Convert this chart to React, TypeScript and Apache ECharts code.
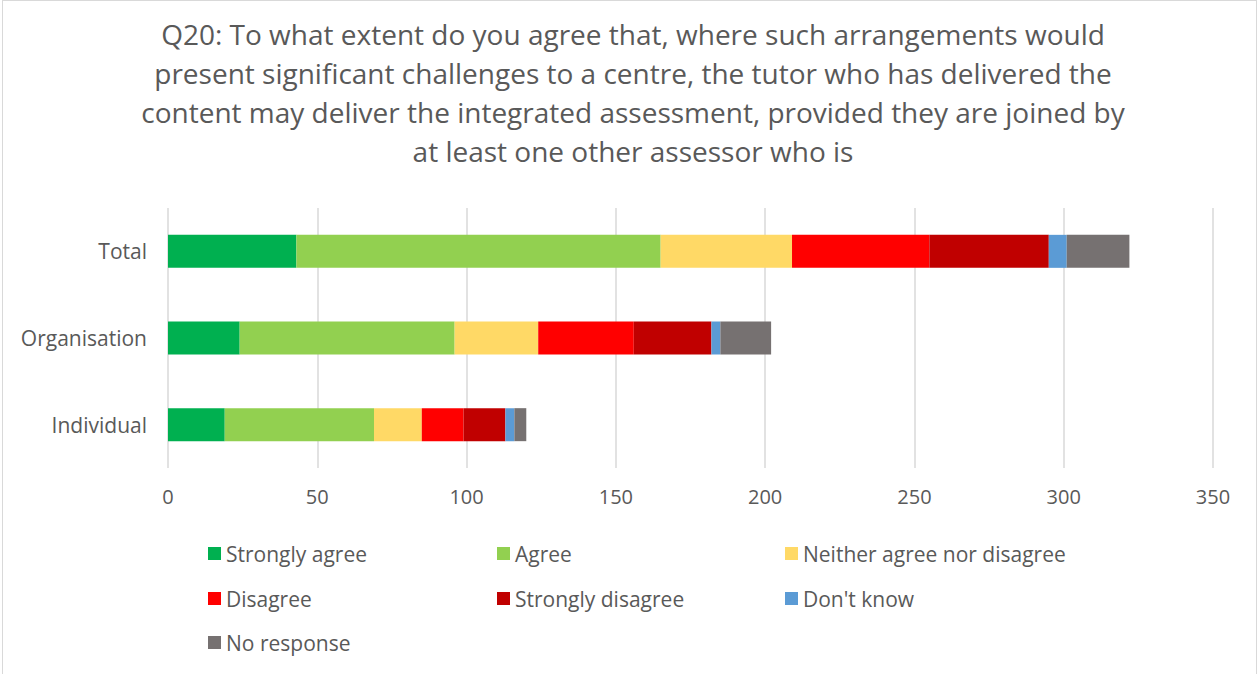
import React, { useEffect, useRef } from "react";
import * as echarts from "echarts";

const categories = ["Total", "Organisation", "Individual"];
const seriesNames = [
  "Strongly agree",
  "Agree",
  "Neither agree nor disagree",
  "Disagree",
  "Strongly disagree",
  "Don't know",
  "No response",
];
const stronglyAgree = [43, 24, 19];
const agree = [122, 72, 50];
const neither = [44, 28, 16];
const disagree = [46, 32, 14];
const stronglyDisagree = [40, 26, 14];
const dontKnow = [6, 3, 3];
const noResponse = [21, 17, 4];
const xTicks = [0, 50, 100, 150, 200, 250, 300, 350];
const colors = ["#00B050", "#92D050", "#FFD966", "#FF0000", "#C00000", "#5B9BD5", "#767171"];
const titleText =
  "Q20: To what extent do you agree that, where such arrangements would\npresent significant challenges to a centre, the tutor who has delivered the\ncontent may deliver the integrated assessment, provided they are joined by\nat least one other assessor who is";

const FONT = "'Open Sans', sans-serif";

export default function App() {
  const ref = useRef<HTMLDivElement>(null);
  useEffect(() => {
    if (!ref.current) return;
    const chart = echarts.init(ref.current, undefined, { renderer: "svg" });
    const values = [stronglyAgree, agree, neither, disagree, stronglyDisagree, dontKnow, noResponse];
    const legendPos = [
      [208, 543],
      [497, 543],
      [785, 543],
      [208, 588],
      [497, 588],
      [785, 588],
      [208, 632],
    ];
    chart.setOption({
      animation: false,
      textStyle: { fontFamily: FONT },
      graphic: [
        {
          type: "text",
          x: 633,
          y: 14,
          style: {
            text: titleText,
            textAlign: "center",
            textVerticalAlign: "top",
            fontSize: 28,
            fontFamily: FONT,
            fill: "#595959",
            lineHeight: 39,
          },
        },
      ],
      legend: seriesNames.map((n, i) => ({
        data: [n],
        left: legendPos[i][0],
        top: legendPos[i][1],
        itemWidth: 13,
        itemHeight: 13,
        icon: "rect",
        padding: 0,
        itemGap: 0,
        textStyle: { fontSize: 21, color: "#595959", fontFamily: FONT },
      })),
      grid: { left: 168, right: 47, top: 208, height: 260, containLabel: false },
      xAxis: {
        type: "value",
        min: xTicks[0],
        max: xTicks[xTicks.length - 1],
        interval: 50,
        axisLine: { show: false },
        axisTick: { show: false },
        splitLine: { lineStyle: { color: "#D9D9D9", width: 1.5 } },
        axisLabel: { fontSize: 20, color: "#595959", margin: 18, fontFamily: FONT },
      },
      yAxis: {
        type: "category",
        data: categories,
        inverse: true,
        axisLine: { show: false },
        axisTick: { show: false },
        axisLabel: { fontSize: 21, color: "#595959", margin: 21, fontFamily: FONT },
      },
      series: seriesNames.map((n, i) => ({
        name: n,
        type: "bar",
        stack: "total",
        data: values[i],
        barWidth: 33,
        itemStyle: { color: colors[i] },
      })),
    });
    return () => chart.dispose();
  }, []);
  return (
    <div style={{ position: "fixed", left: 0, top: 0, width: 1260, height: 674, background: "#fff" }}>
      <div
        style={{
          position: "absolute",
          left: 2,
          top: 0,
          width: 1255,
          height: 690,
          border: "1.5px solid #D9D9D9",
          boxSizing: "border-box",
        }}
      />
      <div ref={ref} style={{ position: "absolute", left: 0, top: 0, width: 1260, height: 674 }} />
    </div>
  );
}
